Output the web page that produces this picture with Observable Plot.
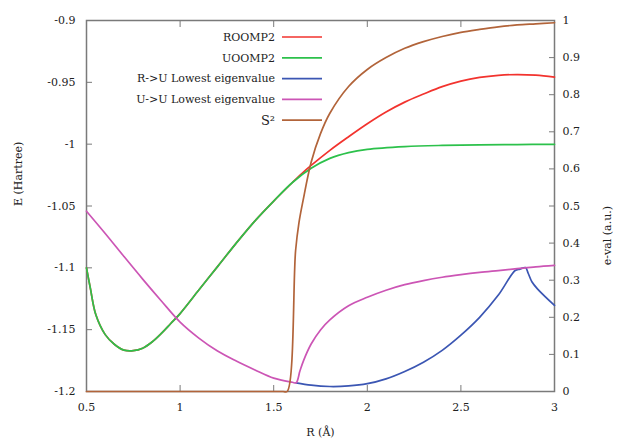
<!DOCTYPE html>
<html><head><meta charset="utf-8">
<script src="https://cdn.jsdelivr.net/npm/d3@7"></script>
<script src="https://cdn.jsdelivr.net/npm/@observablehq/plot@0.6"></script>
<style>body{margin:0;background:#fff;} #chart{width:620px;height:447px;}</style>
</head><body><div id="chart"></div>
<script>
// ---- data ----
const xTicks = [0.5, 1, 1.5, 2, 2.5, 3];
const eTicks = [-1.2, -1.15, -1.1, -1.05, -1, -0.95, -0.9];
const evalTicks = [0, 0.1, 0.2, 0.3, 0.4, 0.5, 0.6, 0.7, 0.8, 0.9, 1];

const roompX = [0.5,0.52,0.55,0.6,0.65,0.7,0.75,0.8,0.85,0.9,0.95,1.0,1.1,1.2,1.3,1.4,1.5,1.6,1.65,1.7,1.8,1.9,2.0,2.1,2.2,2.3,2.4,2.5,2.6,2.7,2.8,2.9,3.0];
const roompE = [-1.100,-1.116,-1.138,-1.154,-1.162,-1.1665,-1.167,-1.165,-1.160,-1.153,-1.145,-1.137,-1.118,-1.099,-1.080,-1.062,-1.046,-1.031,-1.0238,-1.0172,-1.005,-0.994,-0.9835,-0.974,-0.966,-0.9595,-0.9535,-0.949,-0.946,-0.9443,-0.9437,-0.9442,-0.9458];

const uoompX = [0.5,0.52,0.55,0.6,0.65,0.7,0.75,0.8,0.85,0.9,0.95,1.0,1.1,1.2,1.3,1.4,1.5,1.6,1.7,1.8,1.9,2.0,2.2,2.4,2.6,2.8,3.0];
const uoompE = [-1.100,-1.116,-1.138,-1.154,-1.162,-1.1665,-1.167,-1.165,-1.160,-1.153,-1.145,-1.137,-1.118,-1.099,-1.080,-1.062,-1.046,-1.031,-1.0195,-1.0115,-1.0068,-1.0042,-1.0020,-1.0010,-1.0005,-1.0003,-1.0001];

const ruX = [1.62,1.7,1.8,1.9,2.0,2.1,2.2,2.3,2.4,2.5,2.6,2.7,2.79,2.815,2.845,2.86,2.88,2.91,3.0];
const ruV = [0.0234,0.017,0.0135,0.015,0.021,0.034,0.054,0.079,0.111,0.152,0.2,0.26,0.326,0.330,0.334,0.318,0.295,0.276,0.232];

const uuX = [0.5,0.6,0.7,0.8,0.9,1.0,1.1,1.2,1.3,1.4,1.5,1.6,1.62,1.64,1.66,1.7,1.75,1.8,1.9,2.0,2.1,2.2,2.3,2.4,2.5,2.6,2.7,2.8,2.9,3.0];
const uuV = [0.486,0.426,0.364,0.303,0.244,0.187,0.144,0.109,0.082,0.058,0.036,0.025,0.0234,0.055,0.084,0.128,0.166,0.193,0.231,0.254,0.273,0.288,0.299,0.308,0.315,0.321,0.326,0.331,0.336,0.340];

const s2X = [0.5,1.0,1.55,1.572,1.617,1.635,1.657,1.7,1.75,1.8,1.9,2.0,2.1,2.2,2.3,2.4,2.5,2.6,2.7,2.8,2.9,3.0];
const s2V = [0,0,0,0,0.38,0.455,0.515,0.618,0.695,0.75,0.822,0.868,0.9,0.925,0.943,0.957,0.968,0.976,0.983,0.988,0.991,0.994];

const seriesNames = ["ROOMP2", "UOOMP2", "R->U Lowest eigenvalue", "U->U Lowest eigenvalue", "S²"];
const seriesColors = ["#f2332e", "#2cc14b", "#3b56b3", "#cc55b5", "#b2643a"];

// ---- helpers ----
const toE = v => -1.2 + 0.3 * v;                 // right axis (e-val) -> left axis (E)
const fromE = e => Math.round((e + 1.2) / 0.3 * 10) / 10;
const fmt = d => String(+(+d).toFixed(2));
const rows = (xs, ys) => xs.map((x, i) => ({x, y: ys[i]}));

const series = [
  rows(roompX, roompE),
  rows(uoompX, uoompE),
  rows(ruX, ruV.map(toE)),
  rows(uuX, uuV.map(toE)),
  rows(s2X, s2V.map(toE))
];

const gray = "#7a7a7a", ink = "#222";

const svg = Plot.plot({
  width: 620, height: 447,
  marginLeft: 86, marginRight: 66, marginTop: 20, marginBottom: 56,
  x: {domain: [0.5, 3]},
  y: {domain: [-1.2, -0.9]},
  style: {fontFamily: "DejaVu Serif", fontSize: "11px", color: ink, background: "#fff"},
  marks: [
    Plot.frame({stroke: gray, strokeWidth: 1.5}),
    Plot.axisX(xTicks, {anchor: "bottom", tickSize: -6, tickPadding: 18, tickFormat: fmt, label: null, stroke: gray, fill: ink}),
    Plot.axisX(xTicks, {anchor: "top", tickSize: -6, tickFormat: () => "", label: null, stroke: gray}),
    Plot.axisY(eTicks, {anchor: "left", tickSize: -6, tickPadding: 17, tickFormat: fmt, label: null, stroke: gray, fill: ink}),
    Plot.axisY(evalTicks.map(toE), {anchor: "right", tickSize: -6, tickPadding: 14, tickFormat: d => fmt(fromE(d)), label: null, stroke: gray, fill: ink}),
    ...series.map((s, i) => Plot.line(s, {x: "x", y: "y", stroke: seriesColors[i], strokeWidth: 1.7, curve: "catmull-rom"})),
    Plot.text(["R (Å)"], {frameAnchor: "bottom", text: d => d, dy: 44, fill: ink}),
    Plot.text(["E (Hartree)"], {frameAnchor: "left", text: d => d, rotate: -90, dx: -68, fill: ink}),
    Plot.text(["e-val (a.u.)"], {frameAnchor: "right", text: d => d, rotate: -90, dx: 53, fill: ink})
  ]
});

// legend inside plot area (top-left), gnuplot style
const g = d3.select(svg).append("g").attr("font-family", "DejaVu Serif").attr("font-size", 11);
seriesNames.forEach((name, i) => {
  const y = 37 + i * 20.8;
  g.append("text").attr("x", 275).attr("y", y).attr("dy", "0.35em")
    .attr("text-anchor", "end").attr("fill", ink)
    .attr("font-size", i === 4 ? 13 : 11).text(name);
  g.append("line").attr("x1", 282).attr("x2", 322).attr("y1", y).attr("y2", y)
    .attr("stroke", seriesColors[i]).attr("stroke-width", 1.7);
});

document.getElementById("chart").appendChild(svg);
</script>
</body></html>
